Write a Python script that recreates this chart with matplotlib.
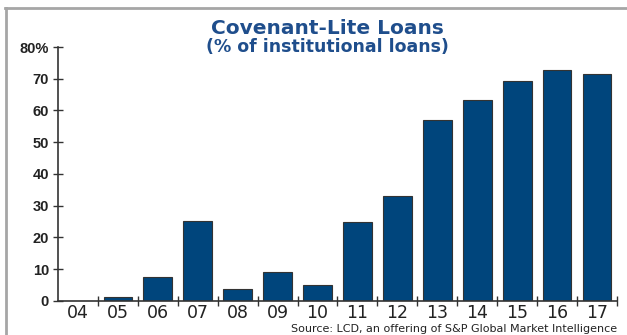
import matplotlib
matplotlib.use('Agg')
import matplotlib.pyplot as plt
from matplotlib.lines import Line2D
import numpy as np

plt.rcParams['font.family'] = ['DejaVu Sans']

years = ['04', '05', '06', '07', '08', '09', '10', '11', '12', '13', '14', '15', '16', '17']
cov_lite_pct = [0, 1.3, 7.5, 25.2, 3.8, 9.1, 5.0, 24.9, 33.1, 57.0, 63.3, 69.3, 72.8, 71.5]
y_ticks = [0, 10, 20, 30, 40, 50, 60, 70, 80]
y_labels = ['0', '10', '20', '30', '40', '50', '60', '70', '80%']

bar_color = '#00457c'
title_color = '#1f4e8c'
text_color = '#222222'

fig = plt.figure(figsize=(6.27, 3.35), dpi=100)
ax = fig.add_axes([0.0925, 0.1015, 0.8915, 0.7582])

x = np.arange(len(years))
ax.bar(x, cov_lite_pct, width=0.72, color=bar_color, edgecolor='#333333', linewidth=0.8)

ax.set_xlim(-0.5, len(years) - 0.5)
ax.set_ylim(0, 80)
ax.set_yticks(y_ticks)
ax.set_yticklabels(y_labels, fontsize=10.5, fontweight='bold', color=text_color,
                   family='Liberation Sans')
ax.set_xticks(x)
ax.set_xticklabels(years, fontsize=12.5, color=text_color)
ax.set_xticks(np.arange(0.5, len(years) - 0.4, 1), minor=True)

ax.tick_params(axis='x', which='major', length=0, pad=2)
ax.tick_params(axis='x', which='minor', direction='inout', length=7, width=1, color='#333333')
ax.tick_params(axis='y', direction='inout', length=7, width=1, color='#333333', pad=3)

for side in ['top', 'right']:
    ax.spines[side].set_visible(False)
for side in ['left', 'bottom']:
    ax.spines[side].set_color('#333333')
    ax.spines[side].set_linewidth(1.2)

fig.text(0.523, 0.8985, 'Covenant-Lite Loans', ha='center', va='baseline',
         fontsize=14.5, fontweight='bold', color=title_color)
fig.text(0.523, 0.846, '(% of institutional loans)', ha='center', va='baseline',
         fontsize=12.5, fontweight='bold', color=title_color)
fig.text(0.984, 0.009, 'Source: LCD, an offering of S&P Global Market Intelligence',
         ha='right', va='baseline', fontsize=8, color=text_color)

# grey frame lines along the top and left edge
fig.add_artist(Line2D([0.008, 1.0], [0.976, 0.976], color='#a6a6a6', linewidth=2,
                      transform=fig.transFigure))
fig.add_artist(Line2D([0.009, 0.009], [0.0, 0.976], color='#a6a6a6', linewidth=2,
                      transform=fig.transFigure))

fig.savefig('out.png', dpi=100)
